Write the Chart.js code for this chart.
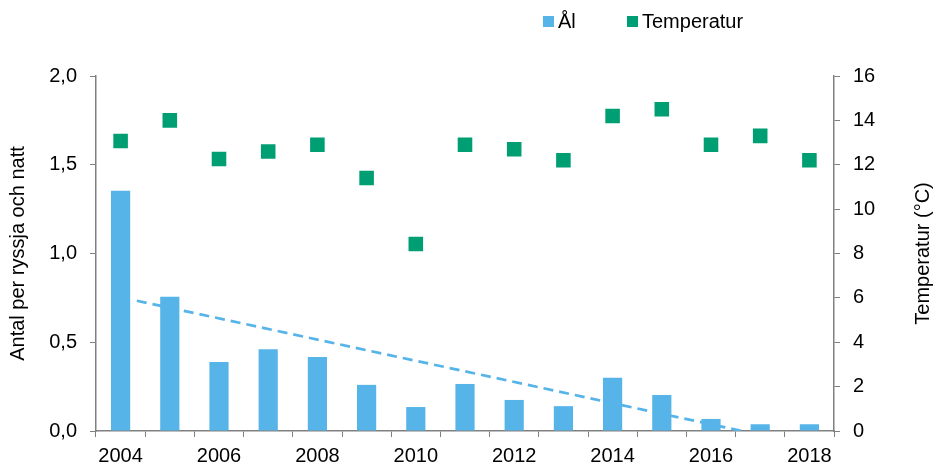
<!DOCTYPE html>
<html>
<head>
<meta charset="utf-8">
<script src="https://cdn.jsdelivr.net/npm/chart.js@4.4.1/dist/chart.umd.min.js"></script>
<style>
  body { margin: 0; background: #fff; font-family: "Liberation Sans", Arial, sans-serif; }
  #wrap { position: relative; width: 936px; height: 465px; }
  .leg { position: absolute; top: 9px; font-size: 20px; color: #000; line-height: 24px; }
  .leg span { display: inline-block; width: 11px; height: 11px; margin-right: 4px; vertical-align: 1px; }
</style>
</head>
<body>
<div id="wrap">
  <canvas id="chart" width="936" height="465"></canvas>
  <div class="leg" style="left:543px"><span style="background:#56b4e9"></span>Ål</div>
  <div class="leg" style="left:627px"><span style="background:#009e73"></span>Temperatur</div>
</div>
<script>
// Ål catch per fyke net and night, plus water temperature
const years = ["2004", "2005", "2006", "2007", "2008", "2009", "2010", "2011", "2012", "2013", "2014", "2015", "2016", "2017", "2018"];
const eel = [1.354, 0.757, 0.389, 0.46, 0.417, 0.26, 0.135, 0.265, 0.175, 0.14, 0.30, 0.203, 0.068, 0.038, 0.038];
const temperature = [13.07, 14.0, 12.26, 12.6, 12.9, 11.4, 8.43, 12.9, 12.7, 12.2, 14.2, 14.5, 12.9, 13.3, 12.2];

// dashed trend line (start and end)
const trendYears = [2004.33, 2016.63];
const trendValues = [0.734, 0];

const axisGray = "#808080";
const fontBase = { family: "'Liberation Sans', Arial, sans-serif", size: 20 };

// right axis title reads bottom-to-top, so draw it by hand
const rightTitle = {
    id: "rightTitle",
    afterDraw(chart) {
        const ctx = chart.ctx;
        const area = chart.chartArea;
        ctx.save();
        ctx.translate(923, (area.top + area.bottom) / 2);
        ctx.rotate(-Math.PI / 2);
        ctx.font = "20px 'Liberation Sans', Arial, sans-serif";
        ctx.fillStyle = "#000";
        ctx.textAlign = "center";
        ctx.textBaseline = "middle";
        ctx.fillText("Temperatur (°C)", 0, 0);
        ctx.restore();
    }
};

new Chart(document.getElementById("chart"), {
    type: "bar",
    data: {
        labels: years,
        datasets: [
            {
                label: "Ål",
                data: eel,
                backgroundColor: "#56b4e9",
                barPercentage: 0.39,
                categoryPercentage: 1,
                grouped: false,
                yAxisID: "y",
                order: 3
            },
            {
                type: "line",
                label: "Trend",
                data: trendYears.map((x, i) => ({ x: x, y: trendValues[i] })),
                xAxisID: "x2",
                yAxisID: "y",
                borderColor: "#56b4e9",
                borderWidth: 2.7,
                borderDash: [10, 6],
                pointRadius: 0,
                fill: false,
                order: 2
            },
            {
                type: "line",
                label: "Temperatur",
                data: temperature,
                yAxisID: "y2",
                showLine: false,
                pointStyle: "rect",
                pointRadius: 10.3,
                pointHoverRadius: 10.3,
                pointBackgroundColor: "#009e73",
                pointBorderWidth: 0,
                order: 1
            }
        ]
    },
    options: {
        responsive: false,
        animation: false,
        layout: { padding: { top: 76, left: 0, right: 0, bottom: 0 } },
        plugins: {
            legend: { display: false },
            tooltip: { enabled: false }
        },
        scales: {
            x: {
                grid: { offset: true, drawOnChartArea: false, tickLength: 6, color: axisGray },
                border: { color: axisGray, width: 1.5 },
                ticks: {
                    autoSkip: false,
                    maxRotation: 0,
                    padding: 7,
                    color: "#000",
                    font: fontBase,
                    callback: function(value, index) {
                        return index % 2 === 0 ? years[index] : "";
                    }
                },
                afterFit: function(scale) { scale.height = 34; }
            },
            // helper axis so the trend can sit between categories
            x2: {
                type: "linear",
                display: false,
                offset: false,
                min: 2003.5,
                max: 2018.5
            },
            y: {
                position: "left",
                min: 0,
                max: 2,
                grid: { drawOnChartArea: false, tickLength: 6, color: axisGray },
                border: { color: axisGray, width: 1.5 },
                ticks: {
                    stepSize: 0.5,
                    padding: 13,
                    color: "#000",
                    font: fontBase,
                    callback: function(value) {
                        return value.toFixed(1).replace(".", ",");
                    }
                },
                title: {
                    display: true,
                    text: "Antal per ryssja och natt",
                    color: "#000",
                    font: fontBase,
                    padding: { top: 6, bottom: 0 }
                },
                afterFit: function(scale) { scale.width = 96; }
            },
            y2: {
                position: "right",
                min: 0,
                max: 16,
                grid: { drawOnChartArea: false, tickLength: 6, color: axisGray },
                border: { color: axisGray, width: 1.5 },
                ticks: {
                    stepSize: 2,
                    padding: 13,
                    color: "#000",
                    font: fontBase
                },
                afterFit: function(scale) { scale.width = 102; }
            }
        }
    },
    plugins: [rightTitle]
});
</script>
</body>
</html>
